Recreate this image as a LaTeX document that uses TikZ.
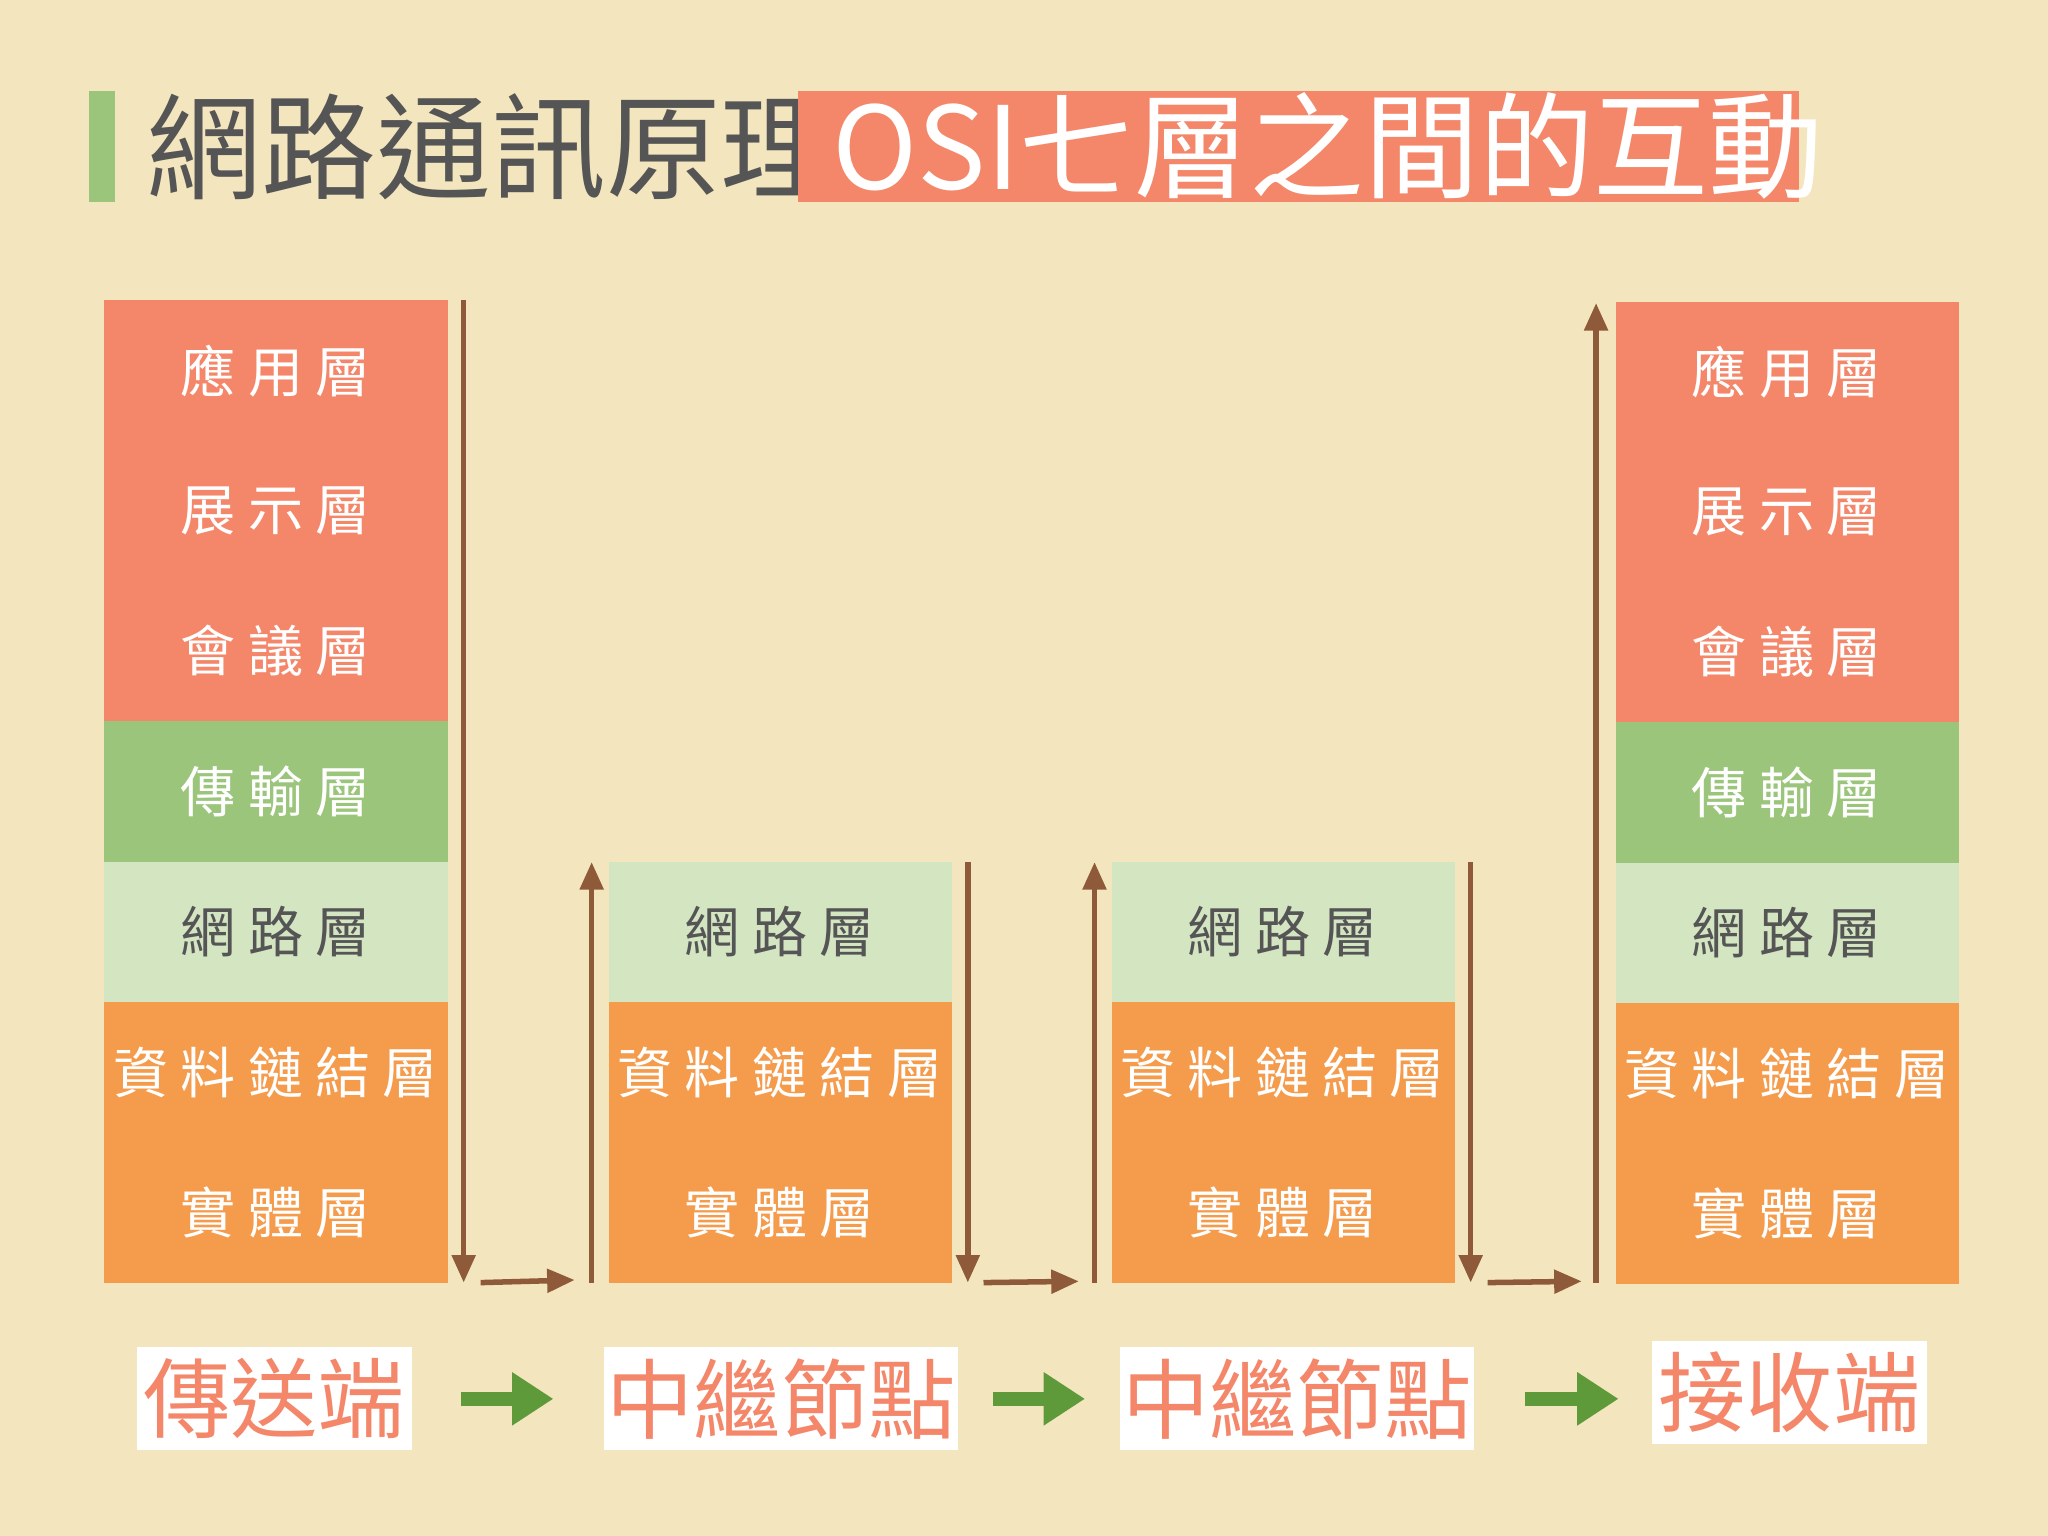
\documentclass[tikz,border=0pt]{standalone}
\usepackage{fontspec}
\setmainfont{Noto Sans CJK TC}
\usetikzlibrary{arrows.meta}
\definecolor{bg}{HTML}{F3E6BE}
\definecolor{red}{HTML}{F4876A}
\definecolor{grn}{HTML}{9BC57B}
\definecolor{lgr}{HTML}{D4E5C2}
\definecolor{org}{HTML}{F59B4C}
\definecolor{brn}{HTML}{8E5A3A}
\definecolor{dk}{HTML}{555555}
\definecolor{garr}{HTML}{5E9A3A}
\tikzset{
 lay/.style={fill=#1,draw=none},
 ltxt/.style={font=\fontsize{12}{14}\selectfont,text=white},
 dtxt/.style={font=\fontsize{12}{14}\selectfont,text=dk},
 flow/.style={draw=brn,line width=1.2pt,-{Triangle[length=6pt,width=5pt]}},
 gar/.style={draw=garr,line width=3pt,-{Triangle[length=9pt,width=11pt]}},
 lab/.style={fill=white,text=red,font=\fontsize{19}{22}\selectfont,inner sep=0pt},
}
\begin{document}
\begin{tikzpicture}[x=0.01cm,y=-0.01cm]
\fill[bg] (0,0) rectangle (1568,1176);
\fill[grn] (68,70) rectangle (88,155);
\node[anchor=west,text=dk,font=\fontsize{25}{30}\selectfont] (title) at (100,112) {網路通訊原理};
\fill[red] (611,70) rectangle (1377,155);
\node[anchor=west,text=white,font=\fontsize{25}{30}\selectfont] (sub) at (625,112) {OSI七層之間的互動};
% stacks
\newcommand{\fullstack}[3]{%
 \fill[red] (#1,#2) rectangle (#1+263,#2+322);
 \fill[grn] (#1,#2+322) rectangle (#1+263,#2+430);
 \fill[lgr] (#1,#2+430) rectangle (#1+263,#2+537);
 \fill[org] (#1,#2+537) rectangle (#1+263,#2+752);
 \node[ltxt] (#3a) at (#1+131,#2+54) {應 用 層};
 \node[ltxt] (#3b) at (#1+131,#2+161) {展 示 層};
 \node[ltxt] (#3c) at (#1+131,#2+268) {會 議 層};
 \node[ltxt] (#3d) at (#1+131,#2+376) {傳 輸 層};
 \node[dtxt] (#3e) at (#1+131,#2+483) {網 路 層};
 \node[ltxt] (#3f) at (#1+131,#2+591) {資 料 鏈 結 層};
 \node[ltxt] (#3g) at (#1+131,#2+698) {實 體 層};}
\newcommand{\midstack}[2]{%
 \fill[lgr] (#1,660) rectangle (#1+263,767);
 \fill[org] (#1,767) rectangle (#1+263,982);
 \node[dtxt] (#2e) at (#1+131,713) {網 路 層};
 \node[ltxt] (#2f) at (#1+131,821) {資 料 鏈 結 層};
 \node[ltxt] (#2g) at (#1+131,928) {實 體 層};}
\fullstack{80}{230}{s}
\fullstack{1237}{231}{r}
\midstack{466}{m}
\midstack{851}{n}
% arrows
\coordinate (a1) at (355,230); \coordinate (a2) at (355,982);
\draw[flow] (a1) -- (a2);
\coordinate (h1) at (368,982); \coordinate (h2) at (440,980);
\draw[flow] (h1) -- (h2);
\coordinate (b1) at (453,982); \coordinate (b2) at (453,660);
\draw[flow] (b1) -- (b2);
\coordinate (c1) at (741,660); \coordinate (c2) at (741,982);
\draw[flow] (c1) -- (c2);
\coordinate (h3) at (753,982); \coordinate (h4) at (826,981);
\draw[flow] (h3) -- (h4);
\coordinate (d1) at (838,982); \coordinate (d2) at (838,660);
\draw[flow] (d1) -- (d2);
\coordinate (e1) at (1126,660); \coordinate (e2) at (1126,982);
\draw[flow] (e1) -- (e2);
\coordinate (h5) at (1139,982); \coordinate (h6) at (1211,981);
\draw[flow] (h5) -- (h6);
\coordinate (f1) at (1222,982); \coordinate (f2) at (1222,232);
\draw[flow] (f1) -- (f2);
% labels
\node[lab,minimum width=2.1cm,minimum height=0.79cm] (l1) at (210,1071) {傳送端};
\node[lab,minimum width=2.71cm,minimum height=0.79cm] (l2) at (598,1071) {中繼節點};
\node[lab,minimum width=2.71cm,minimum height=0.79cm] (l3) at (993,1071) {中繼節點};
\node[lab,minimum width=2.1cm,minimum height=0.79cm] (l4) at (1370,1066) {接收端};
\draw[gar] ([xshift=0.37cm]l1.east) -- ([xshift=-0.38cm]l2.west);
\draw[gar] ([xshift=0.26cm]l2.east) -- ([xshift=-0.26cm]l3.west);
\draw[gar] ([xshift=0.38cm]l3.east) -- ([xshift=-0.25cm]l4.west|-l3.east);
\end{tikzpicture}
\end{document}
